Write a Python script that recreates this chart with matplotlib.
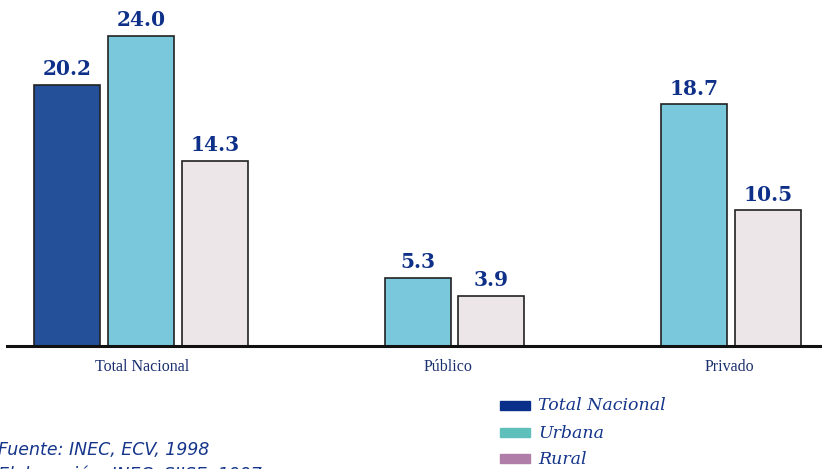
import matplotlib.pyplot as plt

# datos
grupos = ['Total Nacional', 'Público', 'Privado']
total_nacional = [20.2, None, None]
urbana = [24.0, 5.3, 18.7]
rural = [14.3, 3.9, 10.5]
series_leyenda = ['Total Nacional', 'Urbana', 'Rural']

# posiciones (en pixeles del lienzo)
centros_barra_tn = [67]
centros_urb = [141, 418, 694]
centros_rur = [215, 491, 768]
centros_etiqueta = [142, 448, 729]
ancho = 66

azul_texto = '#14358a'
c_tn = '#24509a'
c_urb = '#7ac8db'
c_rur = '#ede6e8'

fig = plt.figure(figsize=(8.22, 4.69), dpi=100)
ax = fig.add_axes([0, (469 - 346) / 469, 1, (346 - 36) / 469])
ax.set_xlim(0, 822)
ax.set_ylim(0, 24.0)
for s in ax.spines.values():
    s.set_visible(False)
ax.set_xticks([])
ax.set_yticks([])

def barras(xs, vals, color):
    for x, v in zip(xs, vals):
        if v is None:
            continue
        ax.bar(x, v, width=ancho, color=color, edgecolor='#222222', linewidth=1.2, clip_on=False)
        ax.text(x, v + 0.45, f'{v:.1f}', ha='center', va='bottom', fontsize=14.5,
                fontweight='heavy', family='DejaVu Serif', color='#0f3088')

barras(centros_barra_tn, total_nacional[:1], c_tn)
barras(centros_urb, urbana, c_urb)
barras(centros_rur, rural, c_rur)

ax.axhline(0, xmin=7 / 822, xmax=1, color='#111111', linewidth=2.2, clip_on=False)

for x, g in zip(centros_etiqueta, grupos):
    ax.text(x, -1.6, g, ha='center', va='center', fontsize=11.5,
            family='Liberation Serif', color='#1a2f6e')

# leyenda
colores_leyenda = ['#0a2f8a', '#5fc0bb', '#b07ca8']
ys = [406, 433, 459]
for y, nombre, c in zip(ys, series_leyenda, colores_leyenda):
    fig.patches.append(plt.Rectangle((500 / 822, 1 - (y + 4) / 469), 30 / 822, 9 / 469,
                                     transform=fig.transFigure, color=c))
    fig.text(538 / 822, 1 - y / 469, nombre, ha='left', va='center', fontsize=12.5,
             style='italic', family='DejaVu Serif', color=azul_texto)

fig.text(-2 / 822, 1 - 450 / 469, 'Fuente: INEC, ECV, 1998', ha='left', va='center',
         fontsize=12.5, style='italic', family='DejaVu Sans', color=azul_texto)
fig.text(-2 / 822, 1 - 475 / 469, 'Elaboración: INEC, SIISE, 1997', ha='left', va='center',
         fontsize=12.5, style='italic', family='DejaVu Sans', color=azul_texto)

fig.savefig('out.png', dpi=100)
